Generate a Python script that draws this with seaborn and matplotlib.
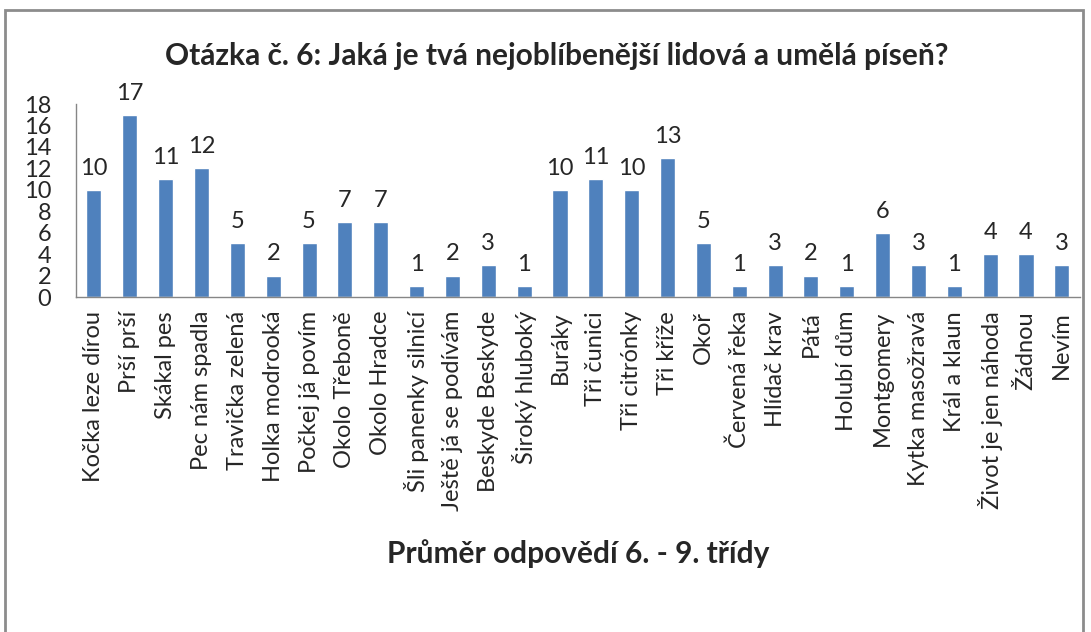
import matplotlib
matplotlib.use("Agg")
import matplotlib.pyplot as plt
import matplotlib.patches as mpatches
import seaborn as sns
import pandas as pd

songs = ["Kočka leze dírou", "Prší prší", "Skákal pes", "Pec nám spadla",
         "Travička zelená", "Holka modrooká", "Počkej já povím", "Okolo Třeboně",
         "Okolo Hradce", "Šli panenky silnicí", "Ještě já se podívám",
         "Beskyde Beskyde", "Široký hluboký", "Buráky", "Tři čunici",
         "Tři citrónky", "Tři kříže", "Okoř", "Červená řeka", "Hlídač krav",
         "Pátá", "Holubí dům", "Montgomery", "Kytka masožravá", "Král a klaun",
         "Život je jen náhoda", "Žádnou", "Nevím"]
counts = [10, 17, 11, 12, 5, 2, 5, 7, 7, 1, 2, 3, 1, 10, 11, 10, 13, 5, 1, 3,
          2, 1, 6, 3, 1, 4, 4, 3]
yticks = list(range(0, 19, 2))

df = pd.DataFrame({"song": songs, "count": counts})

sns.set_style("white")
plt.rcParams['font.family'] = ['Lato', 'DejaVu Sans']

fig = plt.figure(figsize=(10.91, 6.32), dpi=100)
ax = fig.add_axes([0.0697, 0.530, 0.920, 0.3054])

sns.barplot(data=df, x="song", y="count", color="#4F81BD", width=0.42,
            saturation=1, ax=ax)

# value labels above bars
for i, v in enumerate(counts):
    ax.annotate(str(v), (i, v), xytext=(0, 8), textcoords="offset points",
                ha="center", va="bottom", fontsize=17)

ax.set_ylim(0, 18)
ax.set_yticks(yticks)
ax.set_xlim(-0.5, len(songs) - 0.5)
ax.set_xticks(range(len(songs)))
ax.set_xticklabels(songs, rotation=90, fontsize=17)
ax.tick_params(axis="x", length=0, pad=10)
ax.tick_params(axis="y", labelsize=17, length=6, color="#868686", pad=12)
# category separators on the x axis
ax.set_xticks([i - 0.5 for i in range(len(songs) + 1)], minor=True)
ax.tick_params(axis="x", which="minor", length=6, color="#868686", direction="out")

for s in ["top", "right"]:
    ax.spines[s].set_visible(False)
for s in ["left", "bottom"]:
    ax.spines[s].set_color("#868686")
    ax.spines[s].set_linewidth(1)

ax.set_ylabel("")
ax.set_xlabel("Průměr odpovědí 6. - 9. třídy", fontsize=21.5, fontweight="bold",
              labelpad=20)
fig.text(0.51, 0.912, "Otázka č. 6: Jaká je tvá nejoblíbenější lidová a umělá píseň?",
         ha="center", va="center", fontsize=21.5, fontweight="bold")

fig.patches.append(mpatches.Rectangle((0.005, -0.05), 0.988, 1.034,
                                      transform=fig.transFigure, fill=False,
                                      edgecolor="#8c8c8c", linewidth=2))

fig.savefig("out.png", dpi=100)
